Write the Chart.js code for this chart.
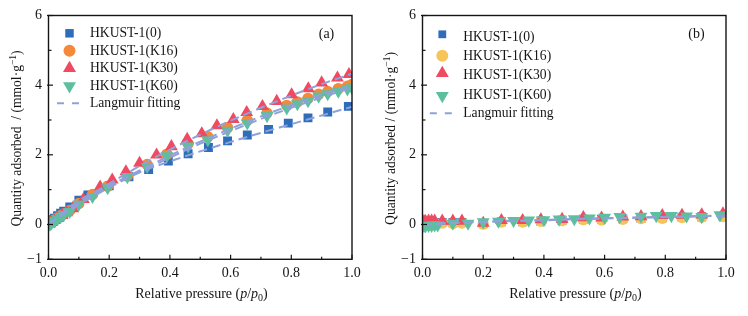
<!DOCTYPE html>
<html><head><meta charset="utf-8">
<script src="https://cdn.jsdelivr.net/npm/chart.js@4.4.1/dist/chart.umd.min.js"></script>
<style>
html,body{margin:0;padding:0;background:#fff;}
body{width:748px;height:316px;overflow:hidden;display:flex;}
.w{position:relative;width:374px;height:316px;}
canvas{display:block;}
</style></head><body>
<div class="w"><canvas id="ca" width="374" height="316"></canvas></div>
<div class="w"><canvas id="cb" width="374" height="316"></canvas></div>
<script>
// ---------- data : panel (a) ----------
const seriesNames = ["HKUST-1(0)","HKUST-1(K16)","HKUST-1(K30)","HKUST-1(K60)"];
const fitName = "Langmuir fitting";
const xTickLabels = ["0.0","0.2","0.4","0.6","0.8","1.0"];
const yTickLabels = ["\u22121","0","2","4","6"];

const pA0  = [0.005,0.01,0.015,0.02,0.03,0.04,0.05,0.07,0.10,0.13,0.20,0.265,0.33,0.395,0.46,0.527,0.59,0.655,0.725,0.79,0.855,0.92,0.988];
const qA0  = [0.05,0.09,0.14,0.18,0.25,0.32,0.38,0.50,0.70,0.85,1.11,1.37,1.58,1.82,2.03,2.21,2.40,2.57,2.73,2.91,3.06,3.23,3.39];
const pA16 = [0.005,0.01,0.02,0.03,0.04,0.05,0.07,0.10,0.145,0.195,0.26,0.325,0.39,0.46,0.525,0.59,0.655,0.72,0.785,0.82,0.855,0.89,0.92,0.955,0.985,1.0];
const qA16 = [0.04,0.07,0.13,0.19,0.25,0.30,0.40,0.60,0.86,1.10,1.40,1.72,2.02,2.32,2.52,2.78,2.99,3.20,3.42,3.52,3.62,3.74,3.82,3.90,3.97,4.02];
const pA30 = [0.005,0.01,0.02,0.03,0.045,0.06,0.08,0.115,0.17,0.21,0.255,0.30,0.356,0.405,0.457,0.505,0.555,0.609,0.653,0.705,0.752,0.801,0.856,0.90,0.952,0.99];
const qA30 = [0.03,0.06,0.12,0.18,0.26,0.34,0.46,0.72,1.08,1.28,1.52,1.76,2.00,2.24,2.45,2.61,2.84,3.02,3.22,3.39,3.54,3.73,3.90,4.07,4.21,4.31];
const pA60 = [0.005,0.01,0.02,0.03,0.04,0.05,0.07,0.10,0.145,0.195,0.26,0.325,0.39,0.46,0.525,0.59,0.655,0.72,0.785,0.82,0.855,0.89,0.92,0.955,0.985,1.0];
const qA60 = [0.00,0.04,0.10,0.16,0.22,0.27,0.37,0.58,0.80,1.05,1.37,1.66,1.97,2.25,2.43,2.70,2.91,3.12,3.34,3.46,3.55,3.68,3.75,3.82,3.89,3.92];

const fitXA   = [0,0.05,0.1,0.15,0.2,0.3,0.4,0.5,0.6,0.7,0.8,0.9,1.0];
const fitA0   = [0,0.38,0.68,0.93,1.13,1.50,1.81,2.10,2.37,2.63,2.88,3.13,3.38];
const fitA16  = [0,0.32,0.60,0.86,1.10,1.55,1.98,2.38,2.75,3.10,3.43,3.73,4.00];
const fitA30  = [0,0.32,0.62,0.90,1.17,1.68,2.15,2.58,2.98,3.35,3.70,4.03,4.33];
const fitA60  = [0,0.30,0.57,0.82,1.06,1.50,1.92,2.32,2.68,3.03,3.35,3.65,3.93];

// ---------- data : panel (b) ----------
const pB   = [0.005,0.01,0.02,0.03,0.04,0.065,0.10,0.13,0.20,0.26,0.33,0.39,0.46,0.53,0.59,0.66,0.72,0.79,0.855,0.92,0.99];
const qB0  = [0.04,0.05,0.05,0.06,0.06,0.06,0.05,0.06,0.03,0.08,0.08,0.10,0.12,0.15,0.15,0.16,0.18,0.19,0.21,0.22,0.24];
const qB16 = [0.02,0.02,0.03,0.04,0.04,0.04,0.03,0.04,0.01,0.07,0.07,0.09,0.11,0.14,0.13,0.15,0.17,0.18,0.20,0.21,0.23];
const qB30 = [0.09,0.09,0.10,0.10,0.10,0.10,0.10,0.10,0.04,0.12,0.12,0.14,0.15,0.20,0.19,0.22,0.23,0.26,0.27,0.28,0.31];
const pB60 = [0.005,0.01,0.02,0.03,0.04,0.05,0.10,0.15,0.20,0.25,0.30,0.35,0.40,0.45,0.50,0.55,0.60,0.65,0.72,0.77,0.82,0.87,0.92,0.98];
const qB60 = [-0.04,-0.04,-0.03,-0.03,-0.02,-0.02,0.03,0.03,0.07,0.09,0.11,0.12,0.13,0.15,0.16,0.18,0.20,0.22,0.23,0.25,0.25,0.24,0.22,0.27];

const fitXB  = [0,0.1,0.2,0.3,0.4,0.5,0.6,0.7,0.8,0.9,1.0];
const fitB0  = [0,0.04,0.07,0.10,0.12,0.15,0.17,0.19,0.21,0.23,0.25];
const fitB30 = [0,0.05,0.08,0.11,0.13,0.16,0.18,0.20,0.22,0.24,0.26];

// ---------- styles ----------
const SERIF = '"Liberation Serif","DejaVu Serif","Times New Roman",serif';
const TXT = '#141414';
const C_BLUE = '#2d6dba', C_ORANGE = '#f5893b', C_YELLOW = '#f7c45a', C_RED = '#ef4a61', C_TEAL = '#5dbf9f', C_FIT = '#8ea2d9';

function pts(xs, ys){ return xs.map((x,i)=>({x:x, y:ys[i]})); }

function markerSet(label, data, color, style, r, rot, order){
  return {label, data, showLine:false, backgroundColor:color, borderColor:color, borderWidth:0,
          pointStyle:style, pointRadius:r, pointHoverRadius:r, pointRotation:rot, order};
}
function fitSet(data){
  return {label:fitName, data, showLine:true, pointRadius:0, borderColor:C_FIT, borderWidth:2,
          borderDash:[9,5], cubicInterpolationMode:'monotone', fill:false, order:0};
}

function drawRich(ctx, parts, x, y){
  let w = 0;
  for (const p of parts){ ctx.font = p.font; w += ctx.measureText(p.text).width; }
  let cx = x - w/2;
  ctx.textAlign = 'left'; ctx.textBaseline = 'alphabetic';
  for (const p of parts){ ctx.font = p.font; ctx.fillText(p.text, cx, y + (p.dy||0)); cx += ctx.measureText(p.text).width; }
}

function decorPlugin(cfg){
  return {
    id:'decor',
    afterDraw(chart){
      const ctx = chart.ctx, a = chart.chartArea, xs = chart.scales.x, ys = chart.scales.y;
      ctx.save();
      ctx.strokeStyle = TXT; ctx.lineWidth = 1.4;
      ctx.strokeRect(a.left, a.top, a.right - a.left, a.bottom - a.top);
      ctx.lineWidth = 1.2;
      xs.ticks.forEach(t=>{
        const px = xs.getPixelForValue(t.value);
        const major = Math.round(t.value*10) % 2 === 0;
        const len = major ? 4.5 : 2.5;
        ctx.beginPath(); ctx.moveTo(px, a.bottom); ctx.lineTo(px, a.bottom - len); ctx.stroke();
      });
      ys.ticks.forEach(t=>{
        const py = ys.getPixelForValue(t.value);
        const v = Math.round(t.value);
        const major = (v % 2 === 0) || v === -1;
        const len = major ? 4.5 : 3;
        ctx.beginPath(); ctx.moveTo(a.left - (major?1.5:0), py); ctx.lineTo(a.left + len, py); ctx.stroke();
      });
      ctx.fillStyle = TXT;
      const f14 = '14px ' + SERIF, fi14 = 'italic 14px ' + SERIF, f10 = '10px ' + SERIF, f9 = '9.5px ' + SERIF;
      drawRich(ctx, [
        {text:'Relative pressure (', font:f14},
        {text:'p', font:fi14},
        {text:'/', font:f14},
        {text:'p', font:fi14},
        {text:'0', font:f10, dy:3},
        {text:')', font:f14}
      ], 201.5, 298);
      ctx.save();
      ctx.translate(20.5, 138.5);
      ctx.rotate(-Math.PI/2);
      drawRich(ctx, [
        {text:cfg.yTitle, font:'13.6px ' + SERIF},
        {text:'\u22121', font:f9, dy:-5},
        {text:')', font:'13.6px ' + SERIF}
      ], 0, 0);
      ctx.restore();
      ctx.font = f14; ctx.textAlign = 'center'; ctx.textBaseline = 'alphabetic';
      ctx.fillText(cfg.panel, cfg.panelX, 37.5);
      const L = cfg.legend;
      L.rows.forEach((row, i)=>{
        const ds = chart.data.datasets[i];
        ctx.fillStyle = ds.backgroundColor;
        Chart.helpers.drawPoint(ctx, {pointStyle:ds.pointStyle, radius:L.radii[i], rotation:ds.pointRotation, borderWidth:0}, L.mx, row.my);
        ctx.fillStyle = TXT;
        ctx.font = '13.6px ' + SERIF; ctx.textAlign = 'left'; ctx.textBaseline = 'middle';
        ctx.fillText(ds.label, L.tx, row.ty);
      });
      ctx.strokeStyle = C_FIT; ctx.lineWidth = 2;
      ctx.beginPath();
      ctx.moveTo(L.mx - 12.5, L.fitY); ctx.lineTo(L.mx - 5.5, L.fitY);
      ctx.moveTo(L.mx + 2.5, L.fitY); ctx.lineTo(L.mx + 9.5, L.fitY);
      ctx.stroke();
      ctx.fillStyle = TXT; ctx.font = '13.6px ' + SERIF; ctx.textAlign = 'left'; ctx.textBaseline = 'middle';
      ctx.fillText(fitName, L.tx, L.fitTy);
      ctx.restore();
    }
  };
}

function makeChart(id, datasets, cfg){
  return new Chart(document.getElementById(id), {
    type:'scatter',
    data:{datasets},
    options:{
      responsive:false, animation:false, devicePixelRatio:1,
      layout:{padding:{left:0, right:22, top:15.5, bottom:0}},
      plugins:{legend:{display:false}, tooltip:{enabled:false}},
      scales:{
        x:{type:'linear', min:0, max:1,
           grid:{display:false, drawTicks:false}, border:{display:false},
           ticks:{stepSize:0.1, padding:5.5, color:TXT, font:{family:SERIF, size:14},
                  callback:(v)=>{ const k = Math.round(v*10); return k%2===0 ? xTickLabels[k/2] : ''; }},
           afterFit:(s)=>{ s.height = 56.7; }},
        y:{type:'linear', min:-1, max:6,
           grid:{display:false, drawTicks:false}, border:{display:false},
           ticks:{stepSize:1, padding:6.5, color:TXT, font:{family:SERIF, size:14},
                  callback:(v)=>{ const k = Math.round(v); const m = {"-1":0,"0":1,"2":2,"4":3,"6":4}; return (k in m) ? yTickLabels[m[k]] : ''; }},
           afterFit:(s)=>{ s.width = 48.5; }}
      }
    },
    plugins:[decorPlugin(cfg)]
  });
}

makeChart('ca', [
  markerSet(seriesNames[0], pts(pA0, qA0),  C_BLUE,   'rect',     6.3, 0,   4),
  markerSet(seriesNames[1], pts(pA16,qA16), C_ORANGE, 'circle',   5.7, 0,   3),
  markerSet(seriesNames[2], pts(pA30,qA30), C_RED,    'triangle', 7.4, 0,   2),
  markerSet(seriesNames[3], pts(pA60,qA60), C_TEAL,   'triangle', 7.4, 180, 1),
  fitSet(pts(fitXA, fitA0)), fitSet(pts(fitXA, fitA16)), fitSet(pts(fitXA, fitA30)), fitSet(pts(fitXA, fitA60))
], {
  panel:'(a)', panelX:326.5, yTitle:'Quantity adsorbed  / (mmol\u00b7g',
  legend:{mx:69.5, tx:90, radii:[6,6,7.5,7.5],
    rows:[{my:33.3,ty:33.5},{my:50.7,ty:51},{my:68.3,ty:68.5},{my:86,ty:86}], fitY:103.3, fitTy:103.3}
});

makeChart('cb', [
  markerSet(seriesNames[0], pts(pB, qB0),    C_BLUE,   'rect',     6.3, 0,   4),
  markerSet(seriesNames[1], pts(pB, qB16),   C_YELLOW, 'circle',   5.7, 0,   3),
  markerSet(seriesNames[2], pts(pB, qB30),   C_RED,    'triangle', 7.4, 0,   2),
  markerSet(seriesNames[3], pts(pB60, qB60), C_TEAL,   'triangle', 7.4, 180, 1),
  fitSet(pts(fitXB, fitB0)), fitSet(pts(fitXB, fitB30))
], {
  panel:'(b)', panelX:322.5, yTitle:'Quantity adsorbed / (mmol\u00b7g',
  legend:{mx:68.3, tx:89.3, radii:[5.5,6,7.5,7.5],
    rows:[{my:34.3,ty:37},{my:55.7,ty:56.7},{my:73.3,ty:75},{my:95.7,ty:95}], fitY:113.3, fitTy:113.3}
});
</script>
</body></html>
